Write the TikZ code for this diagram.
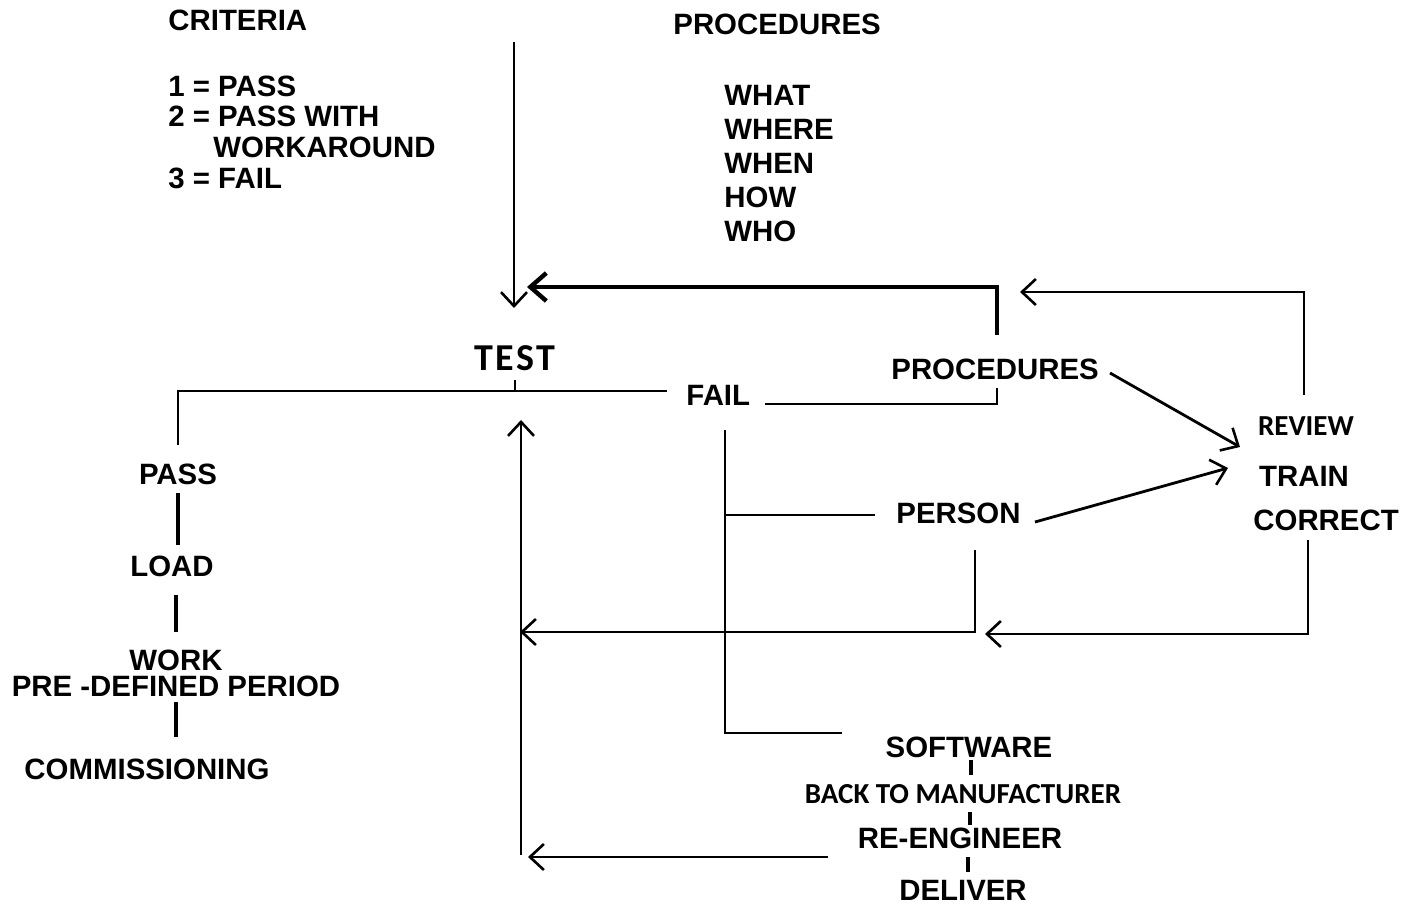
\documentclass[tikz,border=0pt]{standalone}
\usepackage{fontspec}
\setmainfont{Liberation Sans}
\newfontfamily\calib{Carlito}
\usetikzlibrary{arrows.meta,positioning}

\begin{document}
\begin{tikzpicture}[x=0.5pt,y=-0.5pt,
    lbl/.style={font=\bfseries\fontsize{14.7}{16}\selectfont,inner sep=0pt},
    clbl/.style={font=\calib\bfseries\fontsize{14.5}{16}\selectfont,inner sep=0pt},
    ln/.style={line width=1.4pt},
    thk/.style={line width=2.4pt},
    barb/.style={-{Straight Barb[length=7pt,width=13pt,line width=1.3pt]}}]
  \useasboundingbox (0,0) rectangle (1405,906);

  \node[lbl,anchor=west] (crit) at (168,20) {CRITERIA};
  \foreach \y/\t/\n in {86/1 = PASS/c1, 116/2 = PASS WITH/c2, 178/3 = FAIL/c3}
    \node[lbl,anchor=west] (\n) at (168,\y) {\t};
  \node[lbl,anchor=west] (wa) at (213,147) {WORKAROUND};

  \node[lbl,anchor=west] (proctop) at (673,24) {PROCEDURES};
  \foreach \y/\t in {95/WHAT, 129/WHERE, 163/WHEN, 197/HOW, 231/WHO}
    \node[lbl,anchor=west] (\t) at (724,\y) {\t};

  \node[clbl,font=\calib\bfseries\fontsize{19}{20}\selectfont\addfontfeatures{LetterSpace=6}] (test) at (515,358) {TEST};
  \node[lbl,anchor=west] (fail) at (686,395) {FAIL};
  \node[lbl,anchor=west] (proc) at (891,369) {PROCEDURES};
  \node[lbl,anchor=west] (person) at (896,513) {PERSON};
  \node[clbl] (review) at (1306,426) {REVIEW};
  \node[lbl] (train) at (1304,476) {TRAIN};
  \node[lbl,anchor=west] (correct) at (1253,520) {CORRECT};

  \node[lbl] (soft) at (969,747) {SOFTWARE};
  \node[clbl] (back) at (963,794) {BACK TO MANUFACTURER};
  \node[lbl] (reeng) at (960,838) {RE-ENGINEER};
  \node[lbl] (deliver) at (963,890) {DELIVER};

  \node[lbl] (pass) at (178,474) {PASS};
  \node[lbl] (load) at (172,566) {LOAD};
  \node[lbl,align=center,font=\bfseries\fontsize{14.7}{13}\selectfont] (work) at (176,673) {WORK\\PRE -DEFINED PERIOD};
  \node[lbl] (comm) at (147,769) {COMMISSIONING};

  \coordinate (topin) at (514,42);
  \coordinate (testin) at (514,308);
  \draw[line width=1.1pt,barb] (topin) -- (testin);

  \draw[thk,-{Straight Barb[length=8pt,width=14pt,line width=2.2pt]}] (997,335) -- (997,287) -- (527,287);
  \draw[ln] (765,404) -- (997,404) -- (997,388);

  \draw[ln] (515,380) -- (515,391);
  \draw[ln] (178,445) |- (667,391);
  \draw[ln,barb] (521,855) -- (521,420);

  \draw[ln] (725,430) |- (842,733);
  \draw[ln] (725,515) -- (875,515);

  \draw[ln,barb] (1035,522) -- (1228,468);
  \draw[ln,barb] (1110,373) -- (1240,447);
  \draw[ln,barb] (1304,395) |- (1020,292);
  \draw[ln,barb] (1308,540) |- (985,634);
  \draw[ln,barb] (975,550) |- (520,632);
  \draw[ln,barb] (828,857) -- (528,857);

  \foreach \x/\a/\b in {971/760/775, 970/812/825, 968/857/872}
    \draw[line width=1.8pt] (\x,\a) -- (\x,\b);

  \foreach \x/\a/\b in {178/493/545, 176/595/632, 176/702/737}
    \draw[line width=1.8pt] (\x,\a) -- (\x,\b);
\end{tikzpicture}
\end{document}
